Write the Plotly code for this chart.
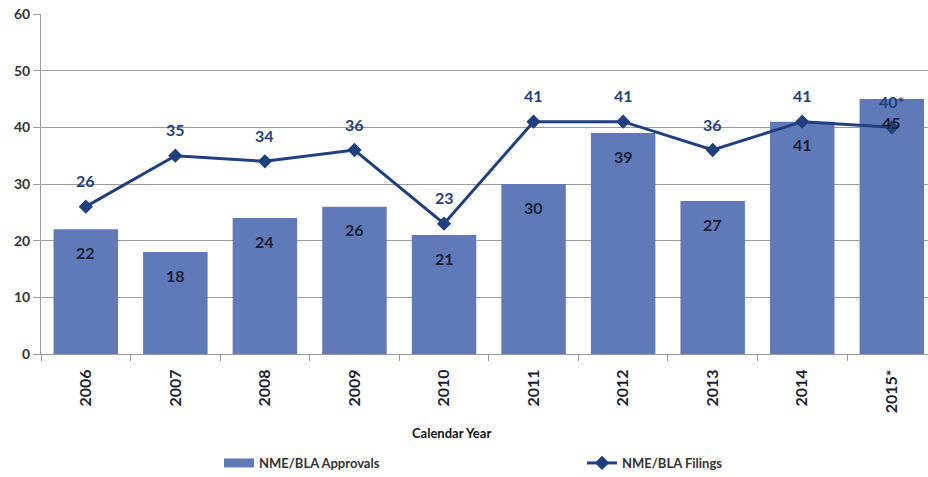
import plotly.graph_objects as go

# NME/BLA approvals and filings by calendar year
years = ["2006", "2007", "2008", "2009", "2010", "2011", "2012", "2013", "2014", "2015*"]
approvals = [22, 18, 24, 26, 21, 30, 39, 27, 41, 45]
filings = [26, 35, 34, 36, 23, 41, 41, 36, 41, 40]
filing_labels = ["26", "35", "34", "36", "23", "41", "41", "36", "41", "40*"]

BAR_COLOR = "#6079b9"
LINE_COLOR = "#1f3f7e"
TEXT_DARK = "#1c1f33"
FONT = "Lato"

W, H = 928, 477
ML, MR, MT, MB = 41, 0, 14, 123
plot_w = W - ML - MR
plot_h = H - MT - MB

fig = go.Figure()

fig.add_trace(go.Bar(
    x=years, y=approvals, name="NME/BLA Approvals",
    marker=dict(color=BAR_COLOR, line=dict(width=0)),
    showlegend=False, hoverinfo="skip",
))
# legend entry for the bars, shown as a wide swatch
fig.add_trace(go.Scatter(
    x=[None], y=[None], name="<b>NME/BLA Approvals</b>", mode="lines",
    line=dict(color=BAR_COLOR, width=9), hoverinfo="skip",
))

fig.add_trace(go.Scatter(
    x=years, y=filings, name="<b>NME/BLA Filings</b>",
    mode="lines+markers",
    line=dict(color=LINE_COLOR, width=3),
    marker=dict(symbol="diamond", size=11, color=LINE_COLOR),
    hoverinfo="skip",
))

annotations = []
# value labels inside bar tops
for i, v in enumerate(approvals):
    annotations.append(dict(
        x=i, y=v, xref="x", yref="y", text=f"<b>{v}</b>", showarrow=False,
        yshift=-23, font=dict(family=FONT, size=16, color=TEXT_DARK),
    ))
# value labels above filing markers
for i, (v, t) in enumerate(zip(filings, filing_labels)):
    annotations.append(dict(
        x=i, y=v, xref="x", yref="y", text=f"<b>{t}</b>", showarrow=False,
        yshift=26, font=dict(family=FONT, size=16, color=LINE_COLOR),
    ))
# axis title
annotations.append(dict(
    x=(451 - ML) / plot_w, y=-(433 - (MT + plot_h)) / plot_h,
    xref="x domain", yref="y domain", text="<b>Calendar Year</b>", showarrow=False,
    xanchor="center", yanchor="middle",
    font=dict(family=FONT, size=13, color="#111111"),
))

fig.update_layout(
    width=W, height=H,
    margin=dict(l=ML, r=MR, t=MT, b=MB, pad=0, autoexpand=False),
    paper_bgcolor="white", plot_bgcolor="white",
    bargap=0.28,
    font=dict(family=FONT, color=TEXT_DARK),
    showlegend=True,
    legend=dict(
        orientation="h",
        xref="container", yref="container",
        x=219 / W, xanchor="left",
        y=1 - 463 / H, yanchor="middle",
        entrywidth=318, entrywidthmode="pixels",
        font=dict(family=FONT, size=13, color="#333333"),
        bgcolor="rgba(0,0,0,0)",
    ),
    annotations=annotations,
    xaxis=dict(
        type="category",
        range=[-0.5, 9.404],
        tickangle=-90,
        tickfont=dict(family=FONT, size=16, color=TEXT_DARK),
        tickprefix="<b>", ticksuffix="</b>",
        ticks="outside", ticklen=6, tickcolor="#999999",
        ticklabelstandoff=8,
        tickson="boundaries",
        showline=True, linecolor="#999999", linewidth=1,
        showgrid=False, automargin=False,
        fixedrange=True,
    ),
    yaxis=dict(
        range=[0, 60], dtick=10,
        tickfont=dict(family=FONT, size=14, color="#333333"),
        tickprefix="<b>", ticksuffix="</b>",
        ticks="outside", ticklen=7, tickcolor="#999999",
        showline=True, linecolor="#999999", linewidth=1,
        showgrid=True, gridcolor="#9a9a9a", gridwidth=1,
        zeroline=False, automargin=False,
        fixedrange=True,
    ),
)

fig.write_html("out.html")
